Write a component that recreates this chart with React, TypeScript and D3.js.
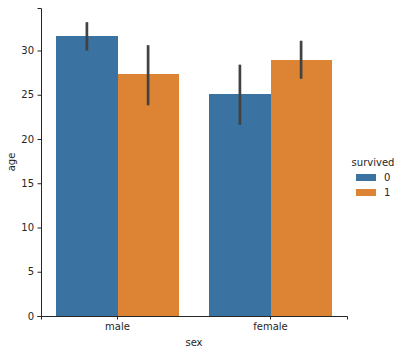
import React, { useRef, useEffect } from 'react';
import * as d3 from 'd3';

// titanic: mean age by sex and survived
const categories = ['male', 'female'];
const hues = ['0', '1'];
const meanAge = [
  [31.6, 27.3], // male: died, survived
  [25.1, 28.9], // female: died, survived
];
const ciLow = [
  [30.0, 23.8],
  [21.6, 26.8],
];
const ciHigh = [
  [33.2, 30.6],
  [28.4, 31.1],
];
const yTicks = [0, 5, 10, 15, 20, 25, 30];
const colors = ['#3a73a1', '#dc8434'];

const App = () => {
  const svgRef = useRef<SVGSVGElement>(null);

  useEffect(() => {
    const svg = d3.select(svgRef.current);
    svg.selectAll('*').remove();

    const width = 408;
    const height = 361;
    const margin = { top: 8, right: 61, bottom: 45, left: 41 };
    const font = 'DejaVu Sans, sans-serif';

    svg.attr('width', width).attr('height', height);

    const x = d3.scaleBand()
      .domain(categories)
      .range([margin.left, width - margin.right]);

    const inner = d3.scaleBand()
      .domain(hues)
      .range([0, x.bandwidth() * 0.8]);

    const y = d3.scaleLinear()
      .domain([0, 34.8])
      .range([height - margin.bottom, margin.top]);

    // bars
    categories.forEach((c, ci) => {
      const g = svg.append('g')
        .attr('transform', `translate(${x(c)! + x.bandwidth() * 0.1}, 0)`);
      hues.forEach((h, hi) => {
        g.append('rect')
          .attr('x', inner(h)!)
          .attr('y', y(meanAge[ci][hi]))
          .attr('width', inner.bandwidth())
          .attr('height', y(0) - y(meanAge[ci][hi]))
          .attr('fill', colors[hi])
          .attr('shape-rendering', 'crispEdges');
        g.append('line')
          .attr('x1', inner(h)! + inner.bandwidth() / 2)
          .attr('x2', inner(h)! + inner.bandwidth() / 2)
          .attr('y1', y(ciLow[ci][hi]))
          .attr('y2', y(ciHigh[ci][hi]))
          .attr('stroke', '#424242')
          .attr('stroke-width', 2.7);
      });
    });

    // axes
    const xAxis = svg.append('g')
      .attr('transform', `translate(0, ${height - margin.bottom})`)
      .call(d3.axisBottom(x).tickSizeOuter(0).tickSize(3.5).tickPadding(3.5));
    const yAxis = svg.append('g')
      .attr('transform', `translate(${margin.left}, 0)`)
      .call(d3.axisLeft(y).tickValues(yTicks).tickSizeOuter(0).tickSize(3.5).tickPadding(3.5));

    [xAxis, yAxis].forEach(a => {
      a.select('.domain').attr('stroke', '#262626').attr('stroke-width', 1);
      a.selectAll('.tick line').attr('stroke', '#262626').attr('stroke-width', 1);
      a.selectAll('.tick text')
        .attr('fill', '#262626')
        .style('font-family', font)
        .style('font-size', '10px');
    });

    svg.append('text')
      .attr('x', (margin.left + width - margin.right) / 2)
      .attr('y', 346)
      .attr('text-anchor', 'middle')
      .attr('fill', '#262626')
      .style('font-family', font)
      .style('font-size', '10px')
      .text('sex');

    svg.append('text')
      .attr('transform', `translate(15, ${y(0) - (y(0) - margin.top) / 2}) rotate(-90)`)
      .attr('text-anchor', 'middle')
      .attr('fill', '#262626')
      .style('font-family', font)
      .style('font-size', '10px')
      .text('age');

    // legend
    const legend = svg.append('g').attr('transform', 'translate(352, 0)');
    legend.append('text')
      .attr('x', 21)
      .attr('y', 166)
      .attr('text-anchor', 'middle')
      .attr('fill', '#262626')
      .style('font-family', font)
      .style('font-size', '10px')
      .text('survived');
    hues.forEach((h, i) => {
      legend.append('rect')
        .attr('x', 4)
        .attr('y', 174 + i * 15)
        .attr('width', 20)
        .attr('height', 7)
        .attr('fill', colors[i]);
      legend.append('text')
        .attr('x', 32)
        .attr('y', 181 + i * 15)
        .attr('fill', '#262626')
        .style('font-family', font)
        .style('font-size', '10px')
        .text(h);
    });
  }, []);

  return <svg ref={svgRef} style={{ position: 'absolute', left: 0, top: 0 }}></svg>;
};

export default App;
